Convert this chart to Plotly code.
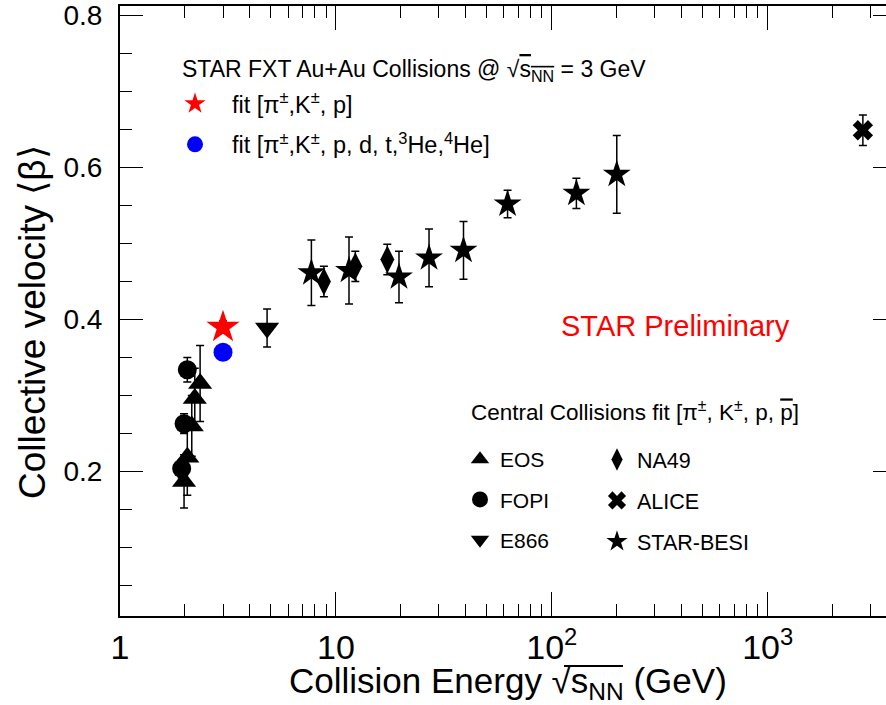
import plotly.graph_objects as go

# ---------------- data ----------------
eos_x = [1.98, 2.05, 2.15, 2.22, 2.35]
eos_y = [0.187, 0.219, 0.260, 0.296, 0.316]
eos_err = [0.035, 0.05, 0.04, 0.04, 0.05]

fopi_x = [1.93, 1.98, 2.05]
fopi_y = [0.204, 0.263, 0.334]
fopi_err = [0.012, 0.013, 0.016]

e866_x = [4.8]
e866_y = [0.389]
e866_err = [0.025]

na49_x = [8.8, 12.3, 17.3]
na49_y = [0.450, 0.470, 0.479]
na49_err = [0.02, 0.02, 0.02]

alice_x = [2760]
alice_y = [0.649]
alice_err = [0.02]

besi_x = [7.7, 11.5, 19.6, 27, 39, 62.4, 130, 200]
besi_y = [0.4615, 0.4646, 0.456, 0.481, 0.491, 0.552, 0.566, 0.591]
besi_err = [0.043, 0.044, 0.034, 0.038, 0.038, 0.018, 0.02, 0.051]

fxt_x = [3.0]
fxt_pikp_y = [0.390]
fxt_pikp_err = [0.008]
fxt_all_y = [0.357]
fxt_all_err = [0.008]

x_major = [1, 10, 100, 1000]
x_major_text = ["1", "10", "10<sup>2</sup>", "10<sup>3</sup>"]
x_minor = [2, 3, 4, 5, 6, 7, 8, 9, 20, 30, 40, 50, 60, 70, 80, 90,
           200, 300, 400, 500, 600, 700, 800, 900, 2000, 3000]
y_major = [0.2, 0.4, 0.6, 0.8]
y_major_text = ["0.2", "0.4", "0.6", "0.8"]
y_minor = [0.05, 0.1, 0.15, 0.25, 0.3, 0.35, 0.45, 0.5, 0.55, 0.65, 0.7, 0.75]

FONT = "Liberation Sans, Arial, Helvetica, sans-serif"

W, H = 886, 705
ML, MR, MT, MB = 120, 0, 6, 89


def px(xp):
    return (xp - ML) / (W - ML - MR)


def py(yp):
    return (H - MB - yp) / (H - MT - MB)


def err(arr):
    return dict(type="data", array=arr, visible=True, color="black",
                thickness=1.5, width=4)


fig = go.Figure()

# central collisions
fig.add_trace(go.Scatter(x=eos_x, y=eos_y, error_y=err(eos_err), mode="markers",
                         marker=dict(symbol="triangle-up", size=21, color="black"),
                         name="EOS", legend="legend2", legendgroup="a"))
fig.add_trace(go.Scatter(x=fopi_x, y=fopi_y, error_y=err(fopi_err), mode="markers",
                         marker=dict(symbol="circle", size=19, color="black"),
                         name="FOPI", legend="legend2", legendgroup="b"))
fig.add_trace(go.Scatter(x=e866_x, y=e866_y, error_y=err(e866_err), mode="markers",
                         marker=dict(symbol="triangle-down", size=21, color="black"),
                         name="E866", legend="legend2", legendgroup="c"))
fig.add_trace(go.Scatter(x=na49_x, y=na49_y, error_y=err(na49_err), mode="markers",
                         marker=dict(symbol="diamond-tall", size=20, color="black"),
                         name="NA49", legend="legend3", legendgroup="d"))
fig.add_trace(go.Scatter(x=alice_x, y=alice_y, error_y=err(alice_err), mode="markers",
                         marker=dict(symbol="x", size=18, color="black"),
                         name="ALICE", legend="legend3", legendgroup="e"))
fig.add_trace(go.Scatter(x=besi_x, y=besi_y, error_y=err(besi_err), mode="markers",
                         marker=dict(symbol="star", size=21, color="black"),
                         name="STAR-BESI", legend="legend3", legendgroup="f"))

# STAR FXT
fig.add_trace(go.Scatter(x=fxt_x, y=fxt_pikp_y, error_y=err(fxt_pikp_err), mode="markers",
                         marker=dict(symbol="star", size=25, color="#ff0000"),
                         name="fit [\u03c0<sup>\u00b1</sup>,K<sup>\u00b1</sup>, p]",
                         legend="legend", legendgroup="g"))
fig.add_trace(go.Scatter(x=fxt_x, y=fxt_all_y, error_y=err(fxt_all_err), mode="markers",
                         marker=dict(symbol="circle", size=19, color="#0000ff"),
                         name="fit [\u03c0<sup>\u00b1</sup>,K<sup>\u00b1</sup>, p, d, t,<sup>3</sup>He,<sup>4</sup>He]",
                         legend="legend", legendgroup="h"))

# invisible helper trace for right-hand ticks
fig.add_trace(go.Scatter(x=alice_x, y=alice_y, yaxis="y2", mode="markers",
                         marker=dict(opacity=0), showlegend=False, hoverinfo="skip"))

fig.update_layout(
    width=W, height=H,
    margin=dict(l=ML, r=MR, t=MT, b=MB),
    paper_bgcolor="white", plot_bgcolor="white",
    font=dict(family=FONT, color="black"),
    xaxis=dict(type="log", range=[0, 3.548], showline=True, linecolor="black", linewidth=2,
               mirror="ticks", ticks="inside", ticklen=24, tickwidth=1.3, tickcolor="black",
               tickmode="array", tickvals=x_major, ticktext=x_major_text,
               minor=dict(tickmode="array", tickvals=x_minor, ticks="inside", ticklen=12,
                          tickwidth=1.3, tickcolor="black", showgrid=False),
               ticklabelstandoff=0, showgrid=False, zeroline=False,
               tickfont=dict(family=FONT, size=34, color="black")),
    yaxis=dict(range=[0.01, 0.8125], showline=True, linecolor="black", linewidth=2,
               mirror=False, ticks="inside", ticklen=23, tickwidth=1.3, tickcolor="black",
               tickmode="array", tickvals=y_major, ticktext=y_major_text,
               minor=dict(tickmode="array", tickvals=y_minor, ticks="inside", ticklen=12,
                          tickwidth=1.3, tickcolor="black", showgrid=False),
               ticklabelstandoff=10, showgrid=False, zeroline=False,
               tickfont=dict(family=FONT, size=28, color="black")),
    yaxis2=dict(range=[0.01, 0.8125], overlaying="y", side="right", showline=False,
                ticks="inside", ticklen=13, tickwidth=1.3, tickcolor="black",
                tickmode="array", tickvals=y_major, showticklabels=False,
                showgrid=False, zeroline=False),
    showlegend=True,
    legend=dict(x=px(158), y=py(82), xanchor="left", yanchor="top",
                bgcolor="rgba(0,0,0,0)", itemwidth=64, tracegroupgap=7,
                font=dict(family=FONT, size=23.5, color="black"), itemclick=False),
    legend2=dict(x=px(460), y=py(439), xanchor="left", yanchor="top",
                 bgcolor="rgba(0,0,0,0)", itemwidth=30, tracegroupgap=10,
                 font=dict(family=FONT, size=21, color="black")),
    legend3=dict(x=px(597), y=py(439), xanchor="left", yanchor="top",
                 bgcolor="rgba(0,0,0,0)", itemwidth=30, tracegroupgap=10,
                 font=dict(family=FONT, size=21.5, color="black")),
)

annotations = [
    dict(text="STAR FXT Au+Au Collisions @ \u221a<span style='text-decoration:overline'>s<sub>NN</sub></span> = 3 GeV",
         x=px(180), y=py(70), xanchor="left", yanchor="middle",
         font=dict(family=FONT, size=23, color="black")),
    dict(text="Central Collisions fit [\u03c0<sup>\u00b1</sup>, K<sup>\u00b1</sup>, p, <span style='text-decoration:overline'>p</span>]",
         x=px(469), y=py(411), xanchor="left", yanchor="middle",
         font=dict(family=FONT, size=22.5, color="black")),
    dict(text="STAR Preliminary", x=px(675), y=py(326), xanchor="center", yanchor="middle",
         font=dict(family=FONT, size=29, color="#ff0000")),
    dict(text="Collision Energy \u221as<sub>NN</sub> (GeV)",
         x=px(508), y=py(683), xanchor="center", yanchor="middle",
         font=dict(family=FONT, size=35, color="black")),
    dict(text="Collective velocity \u27e8\u03b2\u27e9", x=px(32), y=py(322),
         xanchor="center", yanchor="middle", textangle=-90,
         font=dict(family=FONT, size=37, color="black")),
]
for a in annotations:
    a.update(xref="paper", yref="paper", showarrow=False)
fig.update_layout(annotations=annotations)

# radical bar over s_NN in the x-axis title
fig.add_shape(type="line", xref="paper", yref="paper",
              x0=px(564), x1=px(623), y0=py(666), y1=py(666),
              line=dict(color="black", width=2))

fig.write_html("out.html")
